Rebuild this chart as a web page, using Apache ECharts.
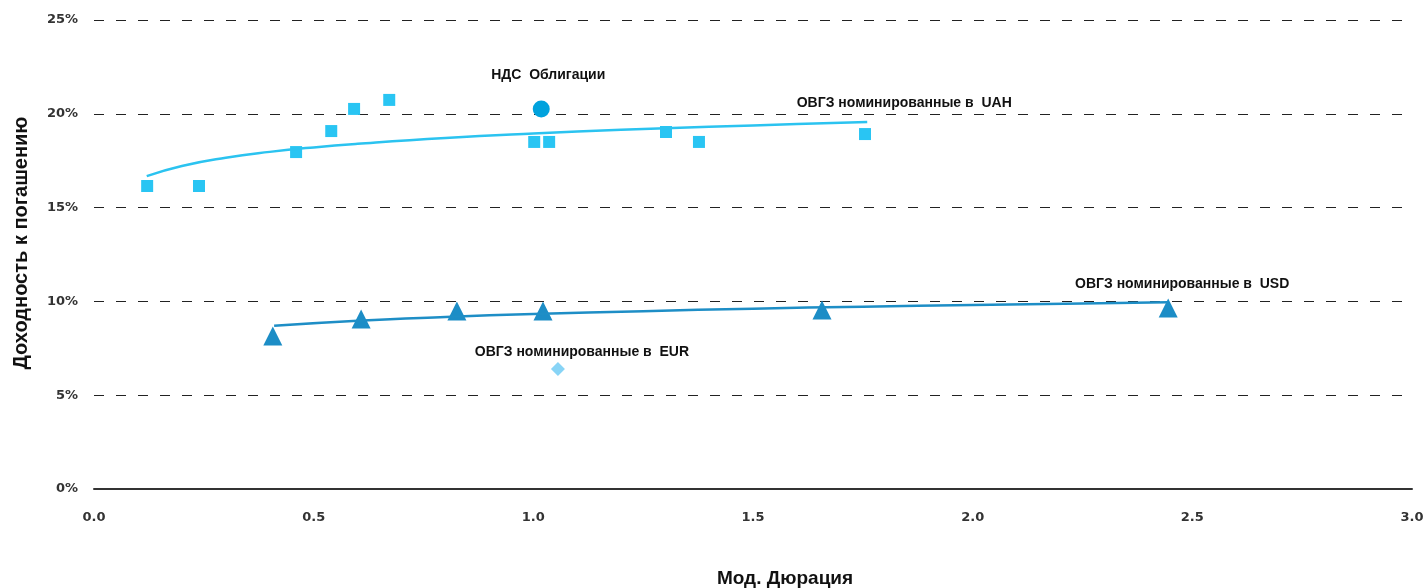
<!DOCTYPE html>
<html><head><meta charset="utf-8">
<script src="https://cdn.jsdelivr.net/npm/echarts@6/dist/echarts.min.js"></script>
<style>html,body{margin:0;padding:0;background:#fff}#c{width:1426px;height:588px}</style>
</head><body><div id="c"></div>
<script>
// Data
const uahX = [0.121, 0.239, 0.460, 0.540, 0.592, 0.672, 1.002, 1.036, 1.302, 1.377, 1.755];
const uahY = [16.15, 16.15, 17.96, 19.08, 20.26, 20.74, 18.50, 18.50, 19.03, 18.50, 18.92];
const ndsX = [1.018];
const ndsY = [20.26];
const usdX = [0.407, 0.608, 0.826, 1.022, 1.657, 2.445];
const usdY = [8.16, 9.06, 9.49, 9.49, 9.54, 9.65];
const eurX = [1.056];
const eurY = [6.40];
const uahTrendX = [0.12, 0.2, 0.3, 0.4, 0.5, 0.6, 0.8, 1.0, 1.2, 1.4, 1.6, 1.76];
const uahTrendY = [16.68, 17.22, 17.66, 17.97, 18.21, 18.40, 18.71, 18.95, 19.15, 19.31, 19.45, 19.56];
const usdTrendX = [0.41, 0.6, 0.8, 1.0, 1.25, 1.5, 1.75, 2.0, 2.25, 2.445];
const usdTrendY = [8.70, 8.97, 9.17, 9.33, 9.48, 9.61, 9.72, 9.81, 9.89, 9.95];
const labels = {
  uah: 'ОВГЗ номинированные в  UAH',
  usd: 'ОВГЗ номинированные в  USD',
  eur: 'ОВГЗ номинированные в  EUR',
  nds: 'НДС  Облигации'
};
const xTicks = ['0.0','0.5','1.0','1.5','2.0','2.5','3.0'];
const yTitle = 'Доходность к погашению';
const xTitle = 'Мод. Дюрация';

const pairs = (xs, ys) => xs.map((x, i) => [x, ys[i]]);
const lblStyle = {fontFamily: 'Liberation Sans', fontWeight: 'bold', fontSize: 14, color: '#111', opacity: 1};
function withLabel(data, idx, text, offset) {
  return data.map((d, i) => i === idx ? {value: d, label: Object.assign({show: true, formatter: text, position: 'inside', offset: offset, align: 'center', verticalAlign: 'middle'}, lblStyle)} : d);
}

const chart = echarts.init(document.getElementById('c'));
chart.setOption({
  animation: false,
  grid: {left: 94, right: 14, top: 20, bottom: 99, containLabel: false, outerBoundsMode: 'none'},
  graphic: [
    {type: 'text', x: 21, y: 243, rotation: Math.PI / 2,
      style: {text: yTitle, align: 'center', verticalAlign: 'middle', fontFamily: 'Liberation Sans', fontWeight: 'bold', fontSize: 20, fill: '#111'}}
  ],
  xAxis: {
    type: 'value', min: 0, max: 3, interval: 0.5,
    axisLine: {show: true, onZero: false, lineStyle: {color: '#333', width: 2}},
    axisTick: {show: false},
    splitLine: {show: false},
    axisLabel: {margin: 22, fontFamily: 'DejaVu Sans', fontWeight: 'bold', fontSize: 13, color: '#333',
      formatter: v => xTicks[Math.round(v / 0.5)]},
    name: xTitle, nameLocation: 'middle', nameGap: 80,
    nameTextStyle: {fontFamily: 'Liberation Sans', fontWeight: 'bold', fontSize: 19, color: '#111', padding: [0, 0, 0, 64]}
  },
  yAxis: {
    type: 'value', min: 0, max: 25, interval: 5,
    axisLine: {show: false}, axisTick: {show: false},
    splitLine: {show: true, lineStyle: {color: '#222', type: [10, 12], width: 1}},
    axisLabel: {margin: 16, fontFamily: 'DejaVu Sans', fontWeight: 'bold', fontSize: 13, color: '#333', formatter: '{value}%'}
  },
  series: [
    {type: 'line', data: pairs(uahTrendX, uahTrendY), smooth: true, symbol: 'none',
      lineStyle: {color: '#2BC3F0', width: 2.5}},
    {type: 'line', data: pairs(usdTrendX, usdTrendY), smooth: true, symbol: 'none',
      lineStyle: {color: '#1E8EC6', width: 2.5}},
    {type: 'scatter', data: pairs(uahX, uahY), symbol: 'rect', symbolSize: 12,
      itemStyle: {color: '#29C5F3', opacity: 1}},
    {type: 'scatter', data: withLabel(pairs(uahTrendX.slice(-1), uahTrendY.slice(-1)), 0, labels.uah, [37, -19]),
      symbolSize: 0, itemStyle: {color: 'transparent'}, silent: true},
    {type: 'scatter', data: withLabel(pairs(ndsX, ndsY), 0, labels.nds, [7, -34]), symbol: 'circle', symbolSize: 17,
      itemStyle: {color: '#00A2DD', opacity: 1}},
    {type: 'scatter', data: withLabel(pairs(usdX, usdY), 5, labels.usd, [14, -24]), symbol: 'triangle', symbolSize: [19, 19],
      itemStyle: {color: '#1C8DC6', opacity: 1}},
    {type: 'scatter', data: withLabel(pairs(eurX, eurY), 0, labels.eur, [24, -17]), symbol: 'diamond', symbolSize: [14, 14],
      itemStyle: {color: '#88D4F6', opacity: 1}}
  ]
});
</script></body></html>
